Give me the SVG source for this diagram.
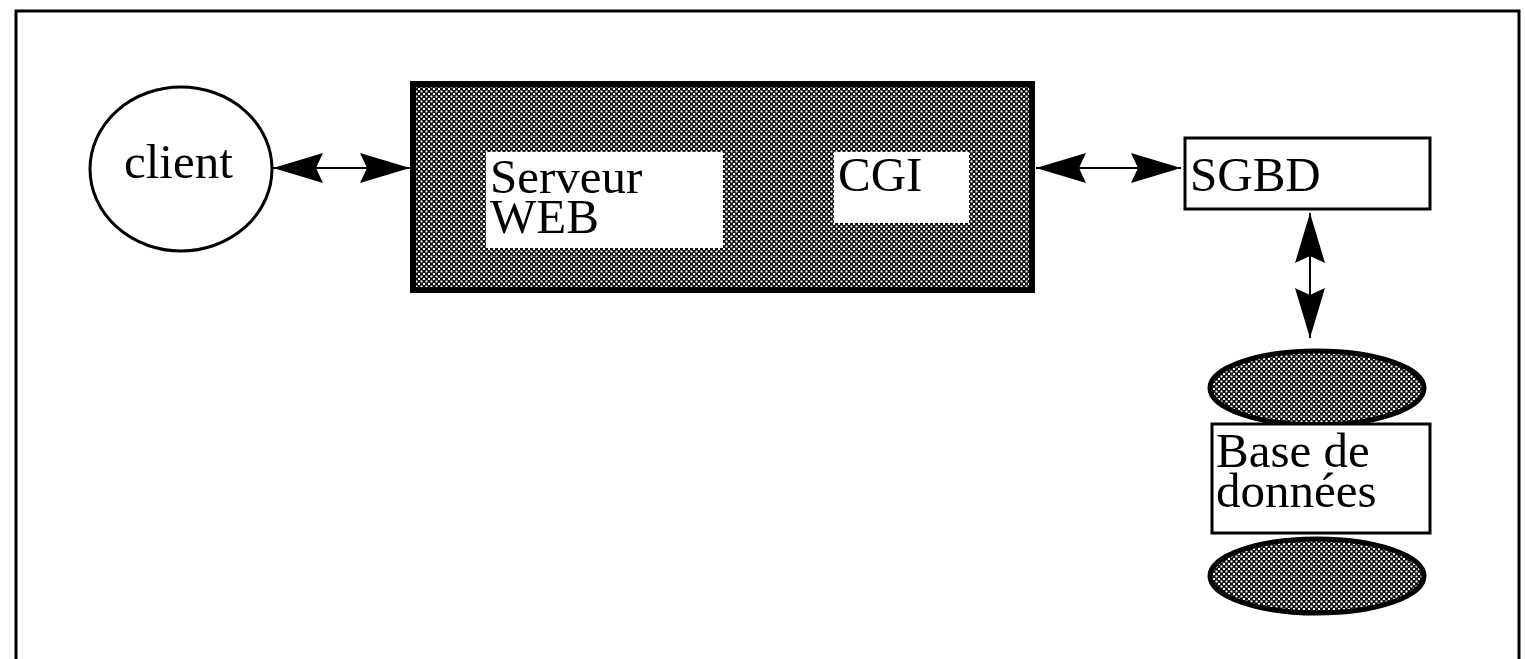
<svg xmlns="http://www.w3.org/2000/svg" width="1525" height="659" viewBox="0 0 1525 659">
<style>
.lbl{font-family:"Liberation Serif","Times New Roman",serif;font-size:49px;fill:#000}
.box{fill:#fff;stroke:#000;stroke-width:3}
.hatch{fill:url(#chk);stroke:#000}
.conn{stroke:#000;stroke-width:2;fill:none;marker-start:url(#ah);marker-end:url(#ah)}
</style>
<defs>
<pattern id="chk" width="5" height="5" patternUnits="userSpaceOnUse">
<rect width="5" height="5" fill="#111"/>
<rect x="0.5" y="0.5" width="2" height="2" fill="#fff"/>
<rect x="3" y="3" width="2" height="2" fill="#fff"/>
</pattern>
<marker id="ah" viewBox="0 0 50 30" refX="50" refY="15" markerWidth="50" markerHeight="30" markerUnits="userSpaceOnUse" orient="auto-start-reverse">
<path d="M50,15 L0,0 L7,15 L0,30 Z" fill="#000"/>
</marker>
</defs>
<rect x="16" y="11" width="1503" height="720" fill="none" stroke="#000" stroke-width="3"/>
<g id="connectors">
<line class="conn" x1="273" y1="168" x2="410" y2="168"/>
<line class="conn" x1="1036" y1="168" x2="1181" y2="168"/>
<line class="conn" x1="1310" y1="213" x2="1310" y2="338"/>
</g>
<g id="client">
<ellipse cx="181" cy="169" rx="91" ry="82" class="box"/>
<text class="lbl" x="124" y="178">client</text>
</g>
<g id="serveur">
<rect x="413" y="84" width="619" height="206" class="hatch" stroke-width="6"/>
</g>
<g id="serveur-web">
<rect x="486" y="152" width="237" height="96" fill="#fff"/>
<text class="lbl" x="490" y="193">Serveur<tspan x="490" dy="40">WEB</tspan></text>
</g>
<g id="cgi">
<rect x="834" y="152" width="135" height="71" fill="#fff"/>
<text class="lbl" x="838" y="191">CGI</text>
</g>
<g id="sgbd">
<rect x="1185" y="138" width="245" height="71" class="box"/>
<text class="lbl" x="1190" y="191">SGBD</text>
</g>
<g id="base">
<ellipse cx="1317" cy="388" rx="107" ry="37" class="hatch" stroke-width="5"/>
<ellipse cx="1317" cy="576" rx="107" ry="37" class="hatch" stroke-width="5"/>
<rect x="1212" y="424" width="218" height="109" class="box"/>
<text class="lbl" x="1216" y="467">Base de<tspan x="1216" dy="40">données</tspan></text>
</g>
</svg>
